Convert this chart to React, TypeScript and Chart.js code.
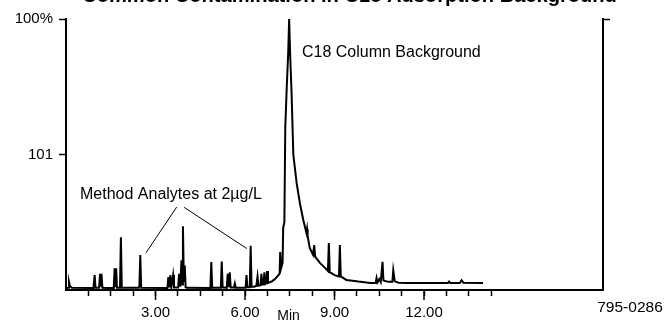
import React, { useEffect, useRef } from 'react';
import { Chart, registerables } from 'chart.js';

Chart.register(...registerables);

// Retention time (min) and relative intensity (%)
const retentionTimes = [
  0, 0.07, 0.1, 0.13, 0.2,
  0.92, 0.96, 0.99,
  1.11, 1.14, 1.16, 1.19, 1.22,
  1.6, 1.63, 1.66, 1.68, 1.71,
  1.81, 1.84, 1.87,
  2.44, 2.46, 2.49, 2.52,
  3.4, 3.43, 3.46, 3.5, 3.53, 3.59, 3.62,
  3.76, 3.79, 3.83, 3.87, 3.9, 3.92, 3.95, 3.98, 4.01, 4.05,
  4.84, 4.87, 4.9,
  5.19, 5.22, 5.25,
  5.39, 5.42, 5.45, 5.49, 5.52, 5.63, 5.66, 5.69,
  6.02, 6.05, 6.08,
  6.16, 6.19, 6.22,
  6.3, 6.38, 6.42, 6.45, 6.52, 6.55, 6.58, 6.62, 6.65, 6.68, 6.71, 6.74, 6.77,
  6.9, 7.0, 7.1, 7.16, 7.18, 7.21, 7.26, 7.28, 7.32, 7.35, 7.4, 7.45, 7.48,
  7.51, 7.56, 7.62, 7.73, 7.84, 7.95, 8.06, 8.08, 8.1, 8.17, 8.28, 8.32, 8.35,
  8.51, 8.7, 8.78, 8.81, 8.84, 9.0, 9.15, 9.18, 9.21, 9.4, 9.8, 10.2,
  10.38, 10.41, 10.44, 10.5, 10.55, 10.61, 10.64, 10.8, 10.94, 10.97, 11.02,
  11.15, 11.4, 12.8, 12.84, 12.88, 13.2, 13.26, 13.32, 13.98,
];
const intensities = [
  0.7, 0.8, 3, 1.5, 0.8,
  0.7, 5.5, 0.8,
  0.8, 6, 1.2, 6, 0.8,
  0.7, 8, 1, 8, 0.8,
  0.8, 19.5, 0.8,
  0.8, 1.5, 12.9, 0.8,
  0.7, 4.8, 1, 5.5, 1, 5.5, 0.9,
  0.9, 6, 1.2, 11, 2, 23.5, 3, 9, 1, 0.8,
  0.7, 10.3, 0.8,
  0.8, 10.5, 1,
  0.8, 6, 1, 6.5, 0.9, 0.9, 2.4, 0.8,
  0.8, 5.5, 1,
  1, 16.3, 1.2,
  1.2, 1.5, 5, 1.6, 1.8, 6, 2, 2, 6.5, 2.2, 2.4, 7, 2.6,
  3.2, 4, 5.2, 6, 14, 8, 10, 23, 25, 60, 75, 88, 100,
  88, 73, 50, 39.5, 32, 26, 21, 22.5, 20, 15.5, 13, 16.6, 12.3,
  10, 8, 7, 17.3, 6.6, 5.5, 5, 16.6, 5, 3.7, 3.1, 2.6,
  2.6, 4.4, 2.8, 4, 2.9, 10.4, 3.5, 3, 3, 7.3, 3.2,
  2.7, 2.6, 2.6, 3.1, 2.6, 2.6, 3.6, 2.7, 2.6,
];

const xTickValues = [0.75, 1.5, 2.25, 3, 3.75, 4.5, 5.25, 6, 6.75, 7.5, 8.25, 9, 9.75, 10.5, 11.25, 12, 12.75, 13.5, 14.25];
const xLabelledTicks = [3, 6, 9, 12];
const yTickValues = [50, 100];
const yTickLabels = ['101', '100%'];

const titleText = 'Common Contamination in C18 Adsorption Background';
const annotationMain = 'C18 Column Background';
const annotationAnalytes = 'Method Analytes at 2µg/L';
const xAxisTitle = 'Min';
const figureCode = '795-0286';

const FONT = '"Liberation Sans", Arial, sans-serif';

const decorPlugin = {
  id: 'decor',
  afterDraw(chart: any) {
    const { ctx, scales } = chart;
    const x = scales.x;
    const y = scales.y;
    ctx.save();
    // longer major ticks
    ctx.strokeStyle = '#000';
    ctx.lineWidth = 1.5;
    xLabelledTicks.forEach((v) => {
      const px = x.getPixelForValue(v);
      ctx.beginPath();
      ctx.moveTo(px, y.bottom);
      ctx.lineTo(px, y.bottom + 10);
      ctx.stroke();
    });

    // annotations
    ctx.fillStyle = '#000';
    ctx.font = '16px ' + FONT;
    ctx.textAlign = 'left';
    ctx.textBaseline = 'middle';
    ctx.fillText(annotationMain, x.getPixelForValue(7.91), y.getPixelForValue(87.5));
    ctx.fillText(annotationAnalytes, x.getPixelForValue(0.47), y.getPixelForValue(35.3));

    ctx.lineWidth = 1;
    ctx.beginPath();
    ctx.moveTo(x.getPixelForValue(3.71), y.getPixelForValue(30.6));
    ctx.lineTo(x.getPixelForValue(2.68), y.getPixelForValue(13.7));
    ctx.moveTo(x.getPixelForValue(3.96), y.getPixelForValue(30.5));
    ctx.lineTo(x.getPixelForValue(6.06), y.getPixelForValue(15.3));
    ctx.stroke();

    // x axis title & figure code
    ctx.font = '14px ' + FONT;
    ctx.textAlign = 'center';
    ctx.fillText(xAxisTitle, 288.5, 316);
    ctx.font = '15.5px ' + FONT;
    ctx.fillText(figureCode, 630, 308);

    // clipped title at top
    ctx.font = 'bold 20px ' + FONT;
    const w = ctx.measureText(titleText).width;
    const size = (20 * 535) / w;
    ctx.font = 'bold ' + size.toFixed(2) + 'px ' + FONT;
    ctx.textBaseline = 'alphabetic';
    ctx.fillText(titleText, 349.5, 1.5);
    ctx.restore();
  },
};

export default function App() {
  const canvasRef = useRef<HTMLCanvasElement | null>(null);

  useEffect(() => {
    if (!canvasRef.current) return;
    Chart.defaults.font.family = FONT;
    Chart.defaults.color = '#000';
    const chart = new Chart(canvasRef.current, {
      type: 'line',
      data: {
        datasets: [
          {
            data: retentionTimes.map((t, i) => ({ x: t, y: intensities[i] })),
            borderColor: '#000',
            borderWidth: 2,
            pointRadius: 0,
            tension: 0,
            fill: false,
          },
        ],
      },
      options: {
        responsive: false,
        animation: false,
        layout: { padding: { top: 19, right: 53, bottom: 0, left: 0 } },
        plugins: {
          legend: { display: false },
          tooltip: { enabled: false },
          title: { display: false },
        },
        scales: {
          x: {
            type: 'linear',
            min: 0,
            max: 18,
            afterBuildTicks: (scale: any) => {
              scale.ticks = xTickValues.map((v) => ({ value: v }));
            },
            afterFit: (scale: any) => {
              scale.height = 32;
            },
            ticks: {
              autoSkip: false,
              maxRotation: 0,
              padding: 8,
              font: { size: 15 },
              color: '#000',
              callback: (value: any) =>
                xLabelledTicks.includes(Number(value)) ? Number(value).toFixed(2) : '',
            },
            grid: {
              drawOnChartArea: false,
              drawTicks: true,
              tickLength: 6,
              tickColor: '#000',
              tickWidth: 1.5,
            },
            border: { display: true, color: '#000', width: 2 },
          },
          y: {
            type: 'linear',
            position: 'left',
            min: 0,
            max: 100,
            afterBuildTicks: (scale: any) => {
              scale.ticks = yTickValues.map((v) => ({ value: v }));
            },
            afterFit: (scale: any) => {
              scale.width = 66;
            },
            ticks: {
              padding: 6,
              font: { size: 15 },
              color: '#000',
              callback: (value: any) => {
                const i = yTickValues.indexOf(Number(value));
                return i >= 0 ? yTickLabels[i] : '';
              },
            },
            grid: {
              drawOnChartArea: false,
              tickLength: 7,
              tickColor: '#000',
              tickWidth: 1.5,
            },
            border: { display: true, color: '#000', width: 2 },
          },
          y2: {
            type: 'linear',
            position: 'right',
            min: 0,
            max: 100,
            afterBuildTicks: (scale: any) => {
              scale.ticks = [{ value: 100 }];
            },
            afterFit: (scale: any) => {
              scale.width = 10;
            },
            ticks: { callback: () => '', padding: 0 },
            grid: {
              drawOnChartArea: false,
              tickLength: 7,
              tickColor: '#000',
              tickWidth: 1.5,
            },
            border: { display: true, color: '#000', width: 2 },
          },
        },
      },
      plugins: [decorPlugin],
    } as any);
    return () => chart.destroy();
  }, []);

  return (
    <div style={{ position: 'fixed', left: 0, top: 0, width: 666, height: 322, background: '#fff' }}>
      <canvas ref={canvasRef} width={666} height={322} style={{ width: 666, height: 322, display: 'block' }} />
    </div>
  );
}
